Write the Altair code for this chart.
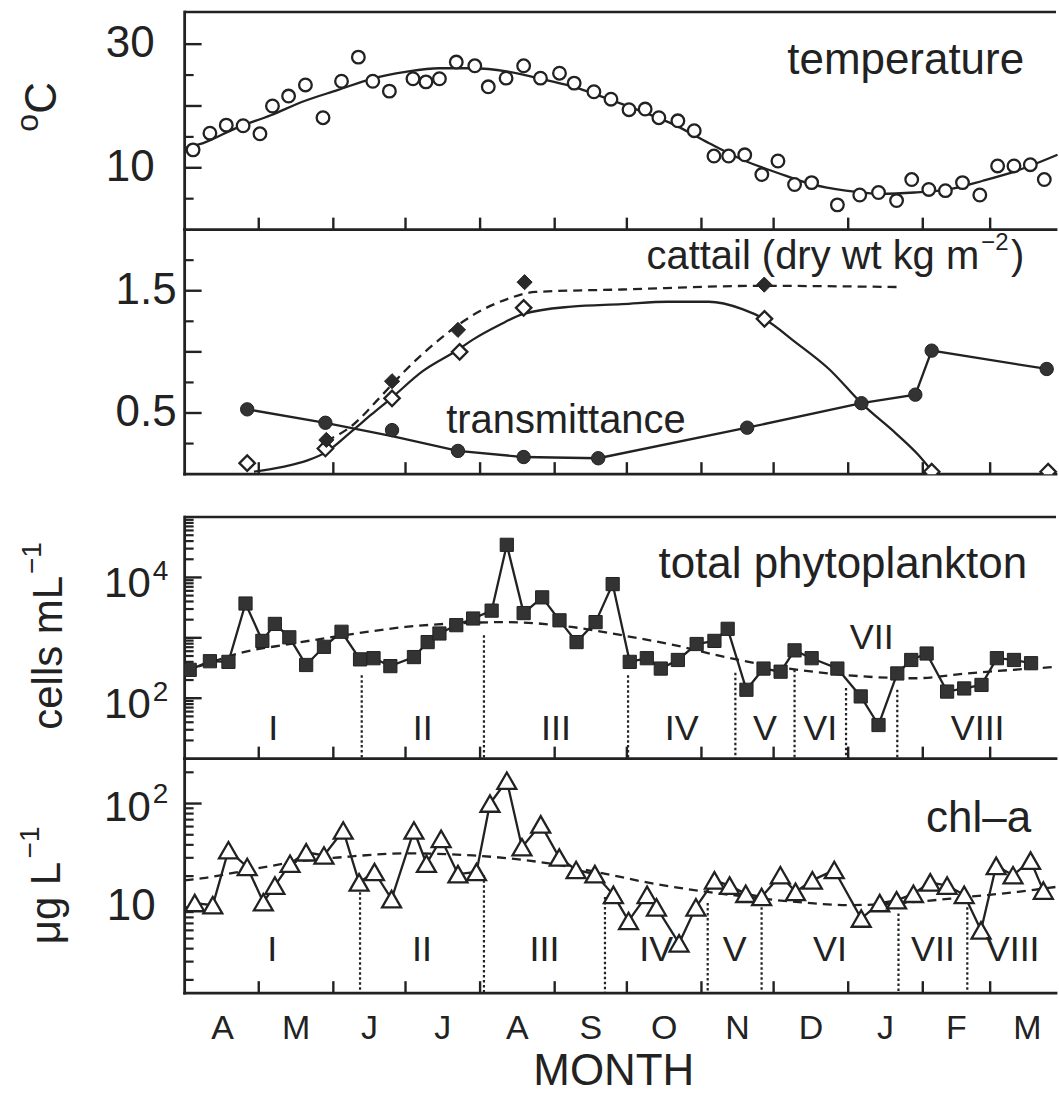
import altair as alt
import pandas as pd

FONT = "Liberation Sans"
INK = "#222222"

# ---------------------------------------------------------------- data
# x positions are days counted from 1 April
month_start = [0, 30, 61, 91, 122, 153, 183, 214, 244, 275, 306, 334, 365]
month_letters = ["A", "M", "J", "J", "A", "S", "O", "N", "D", "J", "F", "M"]

# water temperature (deg C)
temp_day = [2.7, 9.7, 16.5, 23.5, 30.5, 35.7, 42.4, 49.4, 56.7, 64.4, 71.4, 77.4,
            84.3, 94.1, 99.5, 105.1, 112.1, 119.8, 125.4, 132.8, 140.1, 147.1,
            155.0, 161.1, 169.3, 176.4, 183.9, 190.6, 196.3, 204.2, 211.0, 219.2,
            225.3, 232.0, 239.1, 245.8, 252.7, 259.8, 270.5, 279.8, 287.6, 295.1,
            301.4, 308.5, 315.4, 322.5, 329.7, 337.1, 343.9, 350.7, 356.5]
temp_c = [12.9, 15.6, 16.9, 16.8, 15.5, 20.0, 21.6, 23.4, 18.1, 24.0, 27.9, 24.0,
          22.4, 24.4, 23.9, 24.4, 27.1, 26.5, 23.1, 24.5, 26.5, 24.5,
          25.3, 23.7, 22.3, 21.1, 19.4, 19.5, 18.1, 17.6, 16.0, 11.9,
          11.9, 12.1, 8.9, 11.1, 7.3, 7.6, 4.0, 5.6, 6.0, 4.7,
          8.1, 6.5, 6.3, 7.6, 5.6, 10.3, 10.3, 10.5, 8.1]
temp_fit_day = [-0.8, 6.9, 21, 35, 49, 63, 77, 91, 105, 119, 133, 146, 160, 174,
                188.5, 203, 217, 231, 245.5, 260, 274, 288, 302.6, 316.8, 331, 345, 362]
temp_fit_c = [13.2, 14.0, 16.5, 18.5, 20.8, 22.6, 24.4, 25.5, 26.1, 26.1, 25.6, 24.5,
              23.2, 21.3, 19.2, 16.9, 14.0, 11.3, 9.2, 7.3, 6.3, 5.8, 6.0, 6.5, 7.9, 9.5, 12.1]

# light transmittance and cattail biomass (kg dry wt m-2)
trans_day = [25.2, 57.7, 85.4, 112.8, 140.1, 171.1, 233.0, 280.5, 302.9, 309.7, 357.5]
trans_val = [0.53, 0.42, 0.36, 0.19, 0.14, 0.13, 0.38, 0.58, 0.65, 1.01, 0.86]
trans_line = [0.53, 0.42, 0.31, 0.19, 0.14, 0.13, 0.38, 0.58, 0.65, 1.01, 0.86]

cattail_day = [25.2, 57.7, 85.4, 113.5, 140.1, 240.2, 309.7, 358.1]
cattail_open = [0.09, 0.21, 0.62, 1.00, 1.36, 1.27, 0.02, 0.02]
cattail_solid_day = [58.1, 85.4, 112.8, 140.5, 240.1]
cattail_solid = [0.28, 0.76, 1.18, 1.57, 1.55]

cattail_fit_day = [28, 40, 50, 58, 68, 77, 85, 98, 113, 119, 130, 140, 160, 181, 200,
                   217, 231, 240, 253, 267, 281, 295, 304, 310]
cattail_fit = [0.02, 0.06, 0.11, 0.18, 0.34, 0.49, 0.62, 0.84, 1.02, 1.10, 1.22, 1.31,
               1.37, 1.39, 1.41, 1.41, 1.35, 1.27, 1.08, 0.86, 0.57, 0.33, 0.16, 0.02]
cattail_trend_day = [58, 69, 80, 91, 105, 119, 133, 145, 181, 238, 297]
cattail_trend = [0.27, 0.40, 0.62, 0.85, 1.10, 1.30, 1.43, 1.49, 1.51, 1.54, 1.53]

# total phytoplankton (cells mL-1)
phyto_day = [1.3, 9.7, 17.4, 24.5, 31.5, 36.7, 42.7, 49.7, 57.1, 64.4, 72.1, 77.7,
             84.7, 94.5, 100.2, 105.1, 112.1, 119.1, 126.8, 133.1, 140.1, 147.8,
             155.0, 162.1, 170.0, 177.1, 184.2, 191.3, 197.1, 204.2, 212.0, 219.4,
             224.9, 232.7, 239.8, 246.9, 252.7, 259.8, 270.5, 280.2, 287.6, 295.4,
             301.2, 307.6, 316.1, 323.2, 330.4, 336.8, 343.9, 351.0]
phyto_cells = [295, 410, 400, 3700, 890, 1700, 1020, 355, 710, 1260, 440, 460,
               340, 480, 850, 1180, 1620, 2090, 2820, 34700, 2570, 4680,
               1950, 850, 1820, 7760, 400, 460, 310, 430, 790, 890,
               1410, 138, 310, 275, 620, 460, 310, 107, 36, 257,
               430, 550, 129, 145, 166, 460, 430, 380]
phyto_trend_day = [-0.8, 6.9, 22.4, 43.4, 70, 91, 112, 133, 160, 181.4, 202.7, 224,
                   245.5, 267, 302.6, 324, 362]
phyto_trend = [282, 355, 562, 794, 1175, 1514, 1738, 1820, 1514, 1096, 759, 479,
               331, 257, 214, 257, 331]
phyto_break_day = [72.8, 123.6, 183.5, 228.1, 252.7, 274.1, 295.4]
phyto_break_top = [240, 1100, 240, 263, 295, 148, 138]

# chlorophyll a (ug L-1)
chla_day = [3.4, 10.9, 17.4, 25.2, 31.9, 36.7, 43.0, 49.7, 57.1, 65.1, 71.7, 78.1,
            85.2, 94.5, 99.7, 105.8, 112.8, 120.5, 126.1, 133.1, 139.4, 147.2,
            154.9, 161.9, 169.7, 177.4, 183.7, 191.4, 195.3, 204.7, 211.7, 219.4,
            225.7, 232.4, 239.0, 246.8, 253.1, 260.1, 269.2, 280.4, 288.1, 295.1,
            302.1, 309.1, 316.1, 323.2, 330.2, 336.5, 343.5, 350.8, 356.1]
chla_ugl = [11.0, 10.5, 35.5, 24.5, 11.2, 16.2, 26.3, 33.9, 31.6, 55, 17.4, 21.9,
            12.0, 55, 26.3, 45.7, 20.9, 21.9, 100, 166, 38, 63,
            30.2, 22.9, 20.9, 13.2, 7.4, 13.2, 10.0, 4.5, 10.0, 18.2,
            16.2, 13.5, 12.6, 20.4, 14.1, 18.2, 22.9, 7.8, 11.0, 11.7,
            13.5, 17.4, 16.2, 13.2, 6.0, 25.1, 20.4, 28.2, 14.5]
chla_trend_day = [-0.8, 6.9, 28, 49, 63, 91, 119, 142.3, 170.4, 191.4, 212.4, 233.4,
                  254.5, 275.5, 296.5, 324.6, 345.6, 362]
chla_trend = [18.2, 19.1, 23.4, 28.2, 30.2, 33.1, 31.6, 28.2, 21.9, 17.4, 14.5, 12.6,
              11.2, 10.5, 11.0, 12.6, 14.1, 15.8]
chla_break_day = [72.1, 123.6, 173.9, 216.6, 239.0, 295.9, 324.5]
chla_break_top = [17.4, 20.4, 12.6, 11.0, 10.0, 8.7, 10.0]

periods = ["I", "II", "III", "IV", "V", "VI", "VII", "VIII"]

# ---------------------------------------------------------------- layout
W = 875
H1, H2, GAP, H3, H4 = 218, 245, 43, 242, 235
X_DOMAIN = [-0.8, 362.2]
xs = alt.Scale(domain=X_DOMAIN, nice=False, zero=False)
one = pd.DataFrame({"k": [0]})


def xenc(field="d"):
    return alt.X(f"{field}:Q", scale=xs, axis=None)


def yenc(scale, field="v"):
    return alt.Y(f"{field}:Q", scale=scale, axis=None)


def frame(H, top=False):
    layers = [
        alt.Chart(one).mark_rule(color=INK, strokeWidth=2.8, strokeCap="square")
        .encode(x=alt.value(0), y=alt.value(0), y2=alt.value(H)),
        alt.Chart(one).mark_rule(color=INK, strokeWidth=2.8, strokeCap="square")
        .encode(x=alt.value(0), x2=alt.value(W - 2), y=alt.value(H)),
    ]
    if top:
        layers.append(
            alt.Chart(one).mark_rule(color=INK, strokeWidth=2.6)
            .encode(x=alt.value(0), x2=alt.value(W - 2), y=alt.value(0)))
    ticks = pd.DataFrame({"d": month_start[1:-1]})
    layers.append(
        alt.Chart(ticks).mark_rule(color=INK, strokeWidth=2.4)
        .encode(x=xenc(), y=alt.value(H), y2=alt.value(H - 12)))
    return layers


def yticks(scale, major, minor):
    return [
        alt.Chart(pd.DataFrame({"v": major})).mark_rule(color=INK, strokeWidth=2.4)
        .encode(y=yenc(scale), x=alt.value(0), x2=alt.value(17)),
        alt.Chart(pd.DataFrame({"v": minor})).mark_rule(color=INK, strokeWidth=2.2)
        .encode(y=yenc(scale), x=alt.value(0), x2=alt.value(9)),
    ]


def label(text, x, y, size, align="left", baseline="alphabetic", angle=0):
    kw = dict(text=text, fontSize=size, font=FONT, color=INK, align=align,
              baseline=baseline)
    if angle:
        kw["angle"] = angle
    return alt.Chart(one).mark_text(**kw).encode(x=alt.value(x), y=alt.value(y))


def ylabels(scale, values, texts, x, size=44, dy=0, align="right",
            baseline="middle"):
    df = pd.DataFrame({"v": values, "t": texts})
    return alt.Chart(df).mark_text(font=FONT, fontSize=size, color=INK, align=align,
                                   baseline=baseline, dy=dy).encode(
        y=yenc(scale), x=alt.value(x), text="t:N")


def midpoints(breaks):
    edges = [X_DOMAIN[0]] + list(breaks) + [X_DOMAIN[1]]
    return [(a + b) / 2 for a, b in zip(edges[:-1], edges[1:])]


def open_marker(df, scale, shape, size):
    return alt.Chart(df).mark_point(shape=shape, size=size, filled=True, fill="white",
                                    stroke=INK, strokeWidth=2.3, opacity=1,
                                    clip=True).encode(x=xenc(), y=yenc(scale))


def solid_marker(df, scale, shape, size, fill="#333333"):
    return alt.Chart(df).mark_point(shape=shape, size=size, filled=True, fill=fill,
                                    stroke=INK, strokeWidth=1, opacity=1,
                                    clip=True).encode(x=xenc(), y=yenc(scale))


def line(df, scale, dash=None, interp="linear", width=2.3):
    kw = dict(color=INK, strokeWidth=width, interpolate=interp, clip=True)
    if dash:
        kw["strokeDash"] = dash
    return alt.Chart(df).mark_line(**kw).encode(x=xenc(), y=yenc(scale), order="d:Q")


def breaks(df, scale, H):
    return alt.Chart(df).mark_rule(color=INK, strokeWidth=2.2, strokeDash=[2.5, 2.5]
                                   ).encode(x=xenc(), y=yenc(scale), y2=alt.value(H))


# ---------------------------------------------------------------- panel 1: temperature
ys1 = alt.Scale(domain=[0, 35.2], nice=False, zero=False)
temp_df = pd.DataFrame({"d": temp_day, "v": temp_c})
temp_fit_df = pd.DataFrame({"d": temp_fit_day, "v": temp_fit_c})

p1 = alt.layer(
    alt.Chart(one).mark_rule(opacity=0).encode(
        x=alt.value(-184), x2=alt.value(0), y=alt.value(-10), y2=alt.value(-10)),
    *frame(H1, top=True),
    *yticks(ys1, [10, 20, 30], [5, 15, 25]),
    line(temp_fit_df, ys1, interp="monotone"),
    open_marker(temp_df, ys1, "circle", 160),
    ylabels(ys1, [10, 30], ["10", "30"], -30),
    label("C", -129, 102, 44, angle=270),
    label("o", -147, 120, 32, angle=270),
    label("temperature", 841, 62, 44, align="right"),
).properties(width=W, height=H1)

# ---------------------------------------------------------------- panel 2: cattail / transmittance
ys2 = alt.Scale(domain=[0, 2.0], nice=False, zero=False)
trans_df = pd.DataFrame({"d": trans_day, "v": trans_val})
trans_line_df = pd.DataFrame({"d": trans_day, "v": trans_line})
cat_open_df = pd.DataFrame({"d": cattail_day, "v": cattail_open})
cat_solid_df = pd.DataFrame({"d": cattail_solid_day, "v": cattail_solid})
cat_fit_df = pd.DataFrame({"d": cattail_fit_day, "v": cattail_fit})
cat_trend_df = pd.DataFrame({"d": cattail_trend_day, "v": cattail_trend})

p2 = alt.layer(
    *frame(H2),
    *yticks(ys2, [0.5, 1.0, 1.5], [0.25, 0.75, 1.25, 1.75]),
    line(trans_line_df, ys2),
    line(cat_fit_df, ys2, interp="monotone"),
    line(cat_trend_df, ys2, dash=[9, 6], interp="monotone"),
    solid_marker(trans_df, ys2, "circle", 180),
    open_marker(cat_open_df, ys2, "diamond", 240),
    solid_marker(cat_solid_df, ys2, "diamond", 230, fill="#2a2a2a"),
    ylabels(ys2, [0.5, 1.5], ["0.5", "1.5"], -8),
    label("cattail (dry wt kg m", 796, 39, 40, align="right"),
    label("\u22122", 798, 20, 24),
    label(")", 828, 39, 40),
    label("transmittance", 262, 204, 40),
).properties(width=W, height=H2)

spacer = alt.Chart(one).mark_point(opacity=0).encode(
    x=alt.value(0), y=alt.value(0)).properties(width=W, height=GAP)

# ---------------------------------------------------------------- panel 3: phytoplankton
ys3 = alt.Scale(type="log", domain=[10, 100000], nice=False)
phyto_df = pd.DataFrame({"d": phyto_day, "v": phyto_cells})
phyto_trend_df = pd.DataFrame({"d": phyto_trend_day, "v": phyto_trend})
phyto_break_df = pd.DataFrame({"d": phyto_break_day, "v": phyto_break_top})
p3_lab = pd.DataFrame({"d": midpoints(phyto_break_day), "t": periods})
p3_low = p3_lab[p3_lab["t"] != "VII"]
p3_high = p3_lab[p3_lab["t"] == "VII"]

minor3 = [m * 10 ** e for e in range(1, 5) for m in range(2, 10)]

p3 = alt.layer(
    *frame(H3, top=True),
    *yticks(ys3, [100, 1000, 10000], minor3),
    line(phyto_trend_df, ys3, dash=[9, 6], interp="monotone"),
    breaks(phyto_break_df, ys3, H3),
    line(phyto_df, ys3),
    solid_marker(phyto_df, ys3, "square", 175),
    alt.Chart(p3_low).mark_text(font=FONT, fontSize=36, color=INK, baseline="middle")
    .encode(x=xenc(), y=alt.value(212), text="t:N"),
    alt.Chart(p3_high).mark_text(font=FONT, fontSize=36, color=INK, baseline="middle")
    .encode(x=xenc(), y=alt.value(121), text="t:N"),
    ylabels(ys3, [100, 10000], ["10", "10"], -34, size=42, dy=20,
            baseline="alphabetic"),
    ylabels(ys3, [100, 10000], ["2", "4"], -32, size=28, dy=3, align="left",
            baseline="alphabetic"),
    label("cells mL", -123, 213, 42, angle=270),
    label("\u22121", -144, 57, 28, angle=270),
    label("total phytoplankton", 844, 61, 44, align="right"),
).properties(width=W, height=H3)

# ---------------------------------------------------------------- panel 4: chlorophyll a
ys4 = alt.Scale(type="log", domain=[1.49, 271], nice=False)
chla_df = pd.DataFrame({"d": chla_day, "v": chla_ugl})
chla_trend_df = pd.DataFrame({"d": chla_trend_day, "v": chla_trend})
chla_break_df = pd.DataFrame({"d": chla_break_day, "v": chla_break_top})
p4_lab = pd.DataFrame({"d": midpoints(chla_break_day), "t": periods})
month_df = pd.DataFrame({
    "d": [(a + b) / 2 for a, b in zip(month_start[:-1], month_start[1:])],
    "t": month_letters})

minor4 = [2, 3, 4, 5, 6, 7, 8, 9, 20, 30, 40, 50, 60, 70, 80, 90, 200]

p4 = alt.layer(
    *frame(H4),
    *yticks(ys4, [10, 100], minor4),
    line(chla_trend_df, ys4, dash=[9, 6], interp="monotone"),
    breaks(chla_break_df, ys4, H4),
    line(chla_df, ys4),
    open_marker(chla_df, ys4, "triangle-up", 360),
    alt.Chart(p4_lab).mark_text(font=FONT, fontSize=36, color=INK, baseline="middle")
    .encode(x=xenc(), y=alt.value(192), text="t:N"),
    alt.Chart(month_df).mark_text(font=FONT, fontSize=34, color=INK, baseline="middle")
    .encode(x=xenc(), y=alt.value(271), text="t:N"),
    ylabels(ys4, [10], ["10"], -29),
    ylabels(ys4, [100], ["10"], -34, size=42, dy=17, baseline="alphabetic"),
    ylabels(ys4, [100], ["2"], -32, size=28, dy=-1, align="left",
            baseline="alphabetic"),
    label("\u03bcg L", -125, 186, 42, angle=270),
    label("\u22121", -146, 100, 28, angle=270),
    label("chl\u2013a", 848, 74, 44, align="right"),
    label("MONTH", 430, 327, 44, align="center"),
).properties(width=W, height=H4)

chart = alt.vconcat(p1, p2, spacer, p3, p4, spacing=0, bounds="flush").properties(
    padding=0
).configure_view(stroke="transparent")

chart.save("out.html", embed_options={"renderer": "svg", "actions": False})
